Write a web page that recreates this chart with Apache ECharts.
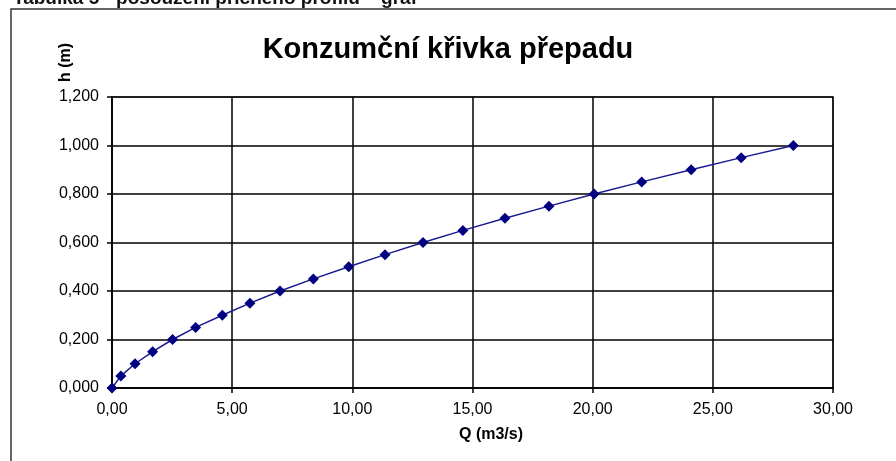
<!DOCTYPE html>
<html>
<head>
<meta charset="utf-8">
<script src="https://cdn.jsdelivr.net/npm/echarts@6/dist/echarts.min.js"></script>
<style>
html, body { margin: 0; padding: 0; background: #fff; }
#chart { width: 896px; height: 461px; }
</style>
</head>
<body>
<div id="chart"></div>
<script>
// h (m) vs Q (m3/s)
var hodnotyH = [0, 0.05, 0.10, 0.15, 0.20, 0.25, 0.30, 0.35, 0.40, 0.45, 0.50,
                0.55, 0.60, 0.65, 0.70, 0.75, 0.80, 0.85, 0.90, 0.95, 1.00];
var hodnotyQ = [0, 0.37, 0.96, 1.69, 2.52, 3.48, 4.59, 5.74, 6.99, 8.38, 9.85,
                11.36, 12.94, 14.60, 16.35, 18.18, 20.06, 22.04, 24.10, 26.18, 28.35];

var data = hodnotyQ.map(function (q, i) { return [q, hodnotyH[i]]; });

function carka(v, d) { return v.toFixed(d).replace('.', ','); }

var pismo = 'Liberation Sans, Arial, sans-serif';

var myChart = echarts.init(document.getElementById('chart'));
var option = {
    animation: false,
    backgroundColor: '#fff',
    textStyle: { fontFamily: pismo },
    title: {
        text: 'Konzumční křivka přepadu',
        left: 'center',
        top: 30,
        textStyle: { fontSize: 29, fontWeight: 'bold', color: '#000', fontFamily: pismo }
    },
    grid: {
        left: 112,
        right: 63,
        top: 97,
        bottom: 73,
        show: true,
        borderColor: '#808080',
        borderWidth: 2,
        containLabel: false
    },
    graphic: [
        {
            type: 'rect',
            shape: { x: 11, y: 9, width: 1000, height: 600 },
            style: { fill: 'none', stroke: '#333', lineWidth: 1.5 },
            silent: true
        },
        {
            type: 'text',
            x: 13,
            y: 8,
            style: { text: 'Tabulka 5 - posouzení příčného profilu – graf', font: 'bold 19px ' + pismo, fill: '#111', textVerticalAlign: 'bottom' }
        },
        {
            type: 'text',
            x: 58,
            y: 82,
            rotation: Math.PI / 2,
            style: { text: 'h (m)', font: 'bold 16px ' + pismo, fill: '#000' }
        },
        {
            type: 'text',
            x: 491,
            y: 435,
            style: { text: 'Q (m3/s)', font: 'bold 16px ' + pismo, fill: '#000', textAlign: 'center', textVerticalAlign: 'middle' }
        }
    ],
    xAxis: {
        type: 'value',
        min: 0,
        max: 30,
        interval: 5,
        axisLine: { show: true, lineStyle: { color: '#000', width: 1.5 } },
        axisTick: { show: true, length: 5, lineStyle: { color: '#000', width: 1.5 } },
        axisLabel: { color: '#000', fontSize: 16, margin: 14, formatter: function (v) { return carka(v, 2); } },
        splitLine: { show: true, lineStyle: { color: '#000', width: 1.5 } }
    },
    yAxis: {
        type: 'value',
        min: 0,
        max: 1.2,
        interval: 0.2,
        axisLine: { show: true, lineStyle: { color: '#000', width: 1.5 } },
        axisTick: { show: true, length: 5, lineStyle: { color: '#000', width: 1.5 } },
        axisLabel: { color: '#000', fontSize: 16, margin: 13, formatter: function (v) { return carka(v, 3); } },
        splitLine: { show: true, lineStyle: { color: '#000', width: 1.5 } }
    },
    series: [
        {
            name: 'h',
            type: 'line',
            data: data,
            symbol: 'diamond',
            symbolSize: 11,
            lineStyle: { color: '#1a1a90', width: 1.5 },
            itemStyle: { color: '#000080' }
        }
    ]
};
myChart.setOption(option);
</script>
</body>
</html>
